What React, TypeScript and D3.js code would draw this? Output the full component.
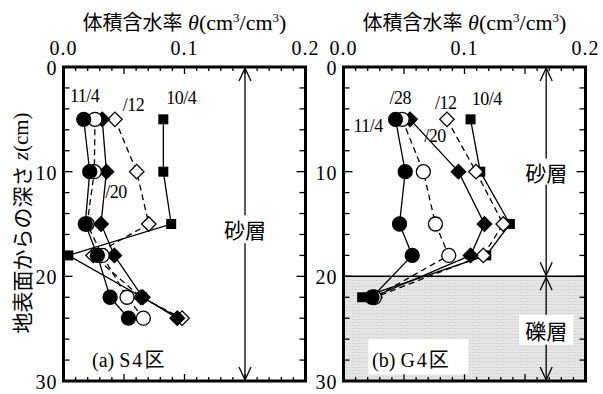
import React from 'react';
import * as d3 from 'd3';

// axis ticks
const thetaTicks = [0, 0.1, 0.2];
const depthTicks = [0, 10, 20, 30];

// (a) S4区 : depth z (cm) and volumetric water content θ
const depthsS4 = [5, 10, 15, 18, 22, 24];
const s4Oct4 = [0.0825, 0.0825, 0.089, 0.004, 0.065, 0.096];
const s4Oct12 = [0.0425, 0.0605, 0.0705, 0.0245, 0.064, 0.098];
const s4Oct20 = [0.032, 0.0355, 0.031, 0.042, 0.0655, 0.094];
const s4Oct28 = [0.026, 0.0255, 0.0195, 0.032, 0.0525, 0.066];
const s4Nov4 = [0.0167, 0.0217, 0.018, 0.028, 0.0385, 0.0537];

// (b) G4区
const depthsG4 = [5, 10, 15, 18, 22];
const g4Oct4 = [0.105, 0.113, 0.1375, 0.118, 0.0154];
const g4Oct12 = [0.0855, 0.1095, 0.132, 0.1155, 0.026];
const g4Oct20 = [0.055, 0.095, 0.1165, 0.105, 0.024];
const g4Oct28 = [0.0485, 0.066, 0.076, 0.087, 0.0255];
const g4Nov4 = [0.043, 0.051, 0.0463, 0.0568, 0.0236];

const seriesKinds = ['square', 'diamondOpen', 'diamond', 'circleOpen', 'circle'];

const W = 242;
const H = 314;
const serif = '"Liberation Serif", "Times New Roman", serif';
const cjk = '"Noto Sans CJK JP", sans-serif';

const x = d3.scaleLinear().domain([0, 0.2]).range([0, W]);
const y = d3.scaleLinear().domain([0, 30]).range([0, H]);

const Marker = ({ kind, cx, cy }: { kind: string; cx: number; cy: number }) => {
  const open = kind.endsWith('Open');
  const fill = open ? '#fff' : '#000';
  if (kind.startsWith('circle')) {
    return <circle cx={cx} cy={cy} r={7} fill={fill} stroke="#000" strokeWidth={1.3} />;
  }
  if (kind === 'square') {
    return <rect x={cx - 5} y={cy - 5} width={10} height={10} fill="#000" />;
  }
  const d = d3.symbol().type(d3.symbolSquare).size(105)() || '';
  return (
    <path d={d} transform={`translate(${cx},${cy}) rotate(45)`} fill={fill} stroke="#000" strokeWidth={1.3} />
  );
};

const Arrow = ({ ax, y0, y1 }: { ax: number; y0: number; y1: number }) => (
  <g stroke="#000" strokeWidth={1.3} fill="none">
    <line x1={ax} x2={ax} y1={y0} y2={y1} />
    <path d={`M${ax - 6},${y0 + 14}L${ax},${y0 + 1}L${ax + 6},${y0 + 14}`} />
    <path d={`M${ax - 6},${y1 - 14}L${ax},${y1 - 1}L${ax + 6},${y1 - 14}`} />
  </g>
);

const Title = () => (
  <text textAnchor="middle" x={W / 2} y={-37} fontSize={22} fontFamily={serif}>
    <tspan fontFamily={cjk} fontSize={20}>体積含水率</tspan>
    <tspan fontStyle="italic"> θ</tspan>
    <tspan>(cm</tspan>
    <tspan fontSize={13} dy={-8}>3</tspan>
    <tspan dy={8}>/cm</tspan>
    <tspan fontSize={13} dy={-8}>3</tspan>
    <tspan dy={8}>)</tspan>
  </text>
);

type PanelProps = {
  tx: number;
  depths: number[];
  series: number[][];
  gravel: boolean;
  labels: { t: string; th: number; z: number }[];
  name: string[];
};

const Panel = ({ tx, depths, series, gravel, labels, name }: PanelProps) => {
  const line = d3
    .line<[number, number]>()
    .x((d) => x(d[0]))
    .y((d) => y(d[1]));
  const minorX = d3.range(0, 0.2001, 0.01);
  const minorY = d3.range(0, 30.01, 2);
  const ax = gravel ? x(0.1675) : x(0.15);
  return (
    <g transform={`translate(${tx},67)`}>
      {gravel && (
        <>
          <rect x={0} y={y(20)} width={W} height={y(30) - y(20)} fill="url(#dots)" />
          <line x1={0} x2={W} y1={y(20)} y2={y(20)} stroke="#000" strokeWidth={1.5} />
        </>
      )}
      {/* ticks */}
      <g stroke="#000" strokeWidth={1.3}>
        {minorX.map((t, i) => {
          const len = i % 5 === 0 ? 7 : 4;
          return (
            <g key={i}>
              <line x1={x(t)} x2={x(t)} y1={0} y2={len} />
              <line x1={x(t)} x2={x(t)} y1={H} y2={H - len} />
            </g>
          );
        })}
        {minorY.map((t, i) => {
          const len = i % 5 === 0 ? 9 : 6;
          return (
            <g key={i}>
              <line x1={0} x2={len} y1={y(t)} y2={y(t)} />
              <line x1={W} x2={W - len} y1={y(t)} y2={y(t)} />
            </g>
          );
        })}
      </g>
      {thetaTicks.map((t) => (
        <text key={t} x={x(t)} y={-12} textAnchor="middle" fontSize={20} fontFamily={serif} letterSpacing={1}>
          {t.toFixed(1)}
        </text>
      ))}
      {depthTicks.map((t) => (
        <text key={t} x={-6} y={y(t) + 8} textAnchor="end" fontSize={20} fontFamily={serif} letterSpacing={1}>
          {t}
        </text>
      ))}
      <Title />
      {/* layer arrows */}
      {gravel ? (
        <>
          <Arrow ax={ax} y0={0} y1={y(20)} />
          <Arrow ax={ax} y0={y(20)} y1={H} />
          <rect x={ax - 27} y={y(10) - 13} width={54} height={26} fill="#fff" />
          <text x={ax} y={y(10)} textAnchor="middle" dominantBaseline="central" fontSize={21} fontFamily={cjk}>砂層</text>
          <rect x={ax - 27} y={y(25.1) - 15} width={54} height={30} fill="#fff" />
          <text x={ax} y={y(25.1)} textAnchor="middle" dominantBaseline="central" fontSize={21} fontFamily={cjk}>礫層</text>
        </>
      ) : (
        <>
          <Arrow ax={ax} y0={0} y1={H} />
          <rect x={ax - 26} y={y(15.5) - 14} width={52} height={28} fill="#fff" />
          <text x={ax} y={y(15.5)} textAnchor="middle" dominantBaseline="central" fontSize={21} fontFamily={cjk}>砂層</text>
        </>
      )}
      {/* lines */}
      {series.map((vals, i) => (
        <path
          key={i}
          d={line(vals.map((v, j) => [v, depths[j]] as [number, number])) || ''}
          fill="none"
          stroke="#000"
          strokeWidth={1.3}
          strokeDasharray={seriesKinds[i].endsWith('Open') ? '6,4' : undefined}
        />
      ))}
      {series.map((vals, i) =>
        vals.map((v, j) => <Marker key={`${i}-${j}`} kind={seriesKinds[i]} cx={x(v)} cy={y(depths[j])} />)
      )}
      {labels.map((l) => (
        <text key={l.t} x={x(l.th)} y={y(l.z)} fontSize={18} fontFamily={serif} letterSpacing={-0.5}>
          {l.t}
        </text>
      ))}
      {gravel && <rect x={x(0.0205)} y={y(28.5) - 26} width={100} height={35} fill="#fff" />}
      <text x={x(0.0236)} y={y(28.7)} fontSize={20} fontFamily={serif}>
        <tspan>{name[0]} </tspan>
        <tspan letterSpacing={2}>{name[1]}</tspan>
        <tspan fontFamily={cjk}>区</tspan>
      </text>
      <rect x={0} y={0} width={W} height={H} fill="none" stroke="#000" strokeWidth={3} />
    </g>
  );
};

const App = () => {
  const labelsS4 = [
    { t: '11/4', th: 0.0054, z: 3.35 },
    { t: '/12', th: 0.049, z: 4.2 },
    { t: '10/4', th: 0.085, z: 3.5 },
    { t: '/20', th: 0.0345, z: 12.5 },
  ];
  const labelsG4 = [
    { t: '/28', th: 0.038, z: 3.5 },
    { t: '/12', th: 0.0757, z: 4.0 },
    { t: '10/4', th: 0.106, z: 3.6 },
    { t: '11/4', th: 0.0082, z: 6.2 },
    { t: '/20', th: 0.0667, z: 7.2 },
  ];
  return (
    <svg width={603} height={394} style={{ position: 'absolute', left: 0, top: 0, background: '#fff' }}>
      <defs>
        <pattern id="dots" width={3} height={3} patternUnits="userSpaceOnUse">
          <rect width={3} height={3} fill="#ececec" />
          <rect width={1} height={1} fill="#b8b8b8" />
          <rect x={1.5} y={1.5} width={1} height={1} fill="#c8c8c8" />
        </pattern>
      </defs>
      <Panel
        tx={63.5}
        depths={depthsS4}
        series={[s4Oct4, s4Oct12, s4Oct20, s4Oct28, s4Nov4]}
        gravel={false}
        labels={labelsS4}
        name={['(a)', 'S4']}
      />
      <Panel
        tx={343.5}
        depths={depthsG4}
        series={[g4Oct4, g4Oct12, g4Oct20, g4Oct28, g4Nov4]}
        gravel={true}
        labels={labelsG4}
        name={['(b)', 'G4']}
      />
      <text
        transform="translate(21,223) rotate(-90)"
        textAnchor="middle"
        dominantBaseline="central"
        fontSize={21}
        fontFamily={serif}
      >
        <tspan fontFamily={cjk}>地表面からの深さ</tspan>
        <tspan fontStyle="italic"> z</tspan>
        <tspan>(cm)</tspan>
      </text>
    </svg>
  );
};

export default App;
